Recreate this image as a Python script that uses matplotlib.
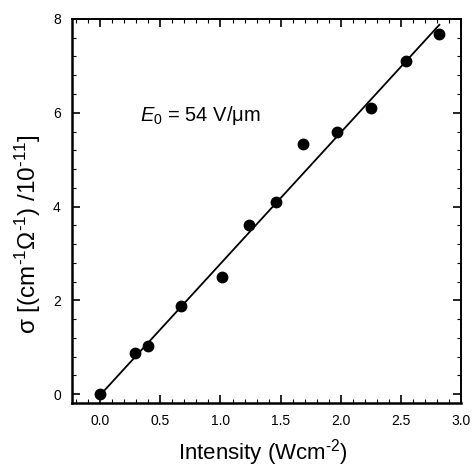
import matplotlib.pyplot as plt
from matplotlib.ticker import MultipleLocator

# Photoconductivity vs. intensity
intensity = [0.0, 0.29, 0.40, 0.67, 1.01, 1.24, 1.465, 1.69, 1.97, 2.255, 2.54, 2.82]
sigma = [0.0, 0.875, 1.02, 1.88, 2.50, 3.61, 4.10, 5.34, 5.58, 6.11, 7.10, 7.67]

# linear fit line as drawn
fit_x = [0.0, 2.82]
fit_slope = 2.80
fit_intercept = -0.02

plt.rcParams.update({
    "font.family": ["Liberation Sans", "DejaVu Sans"],
    "mathtext.fontset": "custom",
    "mathtext.rm": "Liberation Sans",
    "mathtext.it": "Liberation Sans:italic",
})

fig = plt.figure(figsize=(4.72, 4.70), dpi=100)
ax = fig.add_axes([0.1525, 0.1426, 0.8242, 0.817])

fit_y = [fit_intercept + fit_slope * x for x in fit_x]
ax.plot(fit_x, fit_y, color="black", linewidth=1.3, zorder=2)
ax.plot(intensity, sigma, "o", color="black", markersize=7.5, zorder=3)

ax.set_xlim(-0.235, 3.0)
ax.set_ylim(-0.19, 8.0)
ax.xaxis.set_major_locator(MultipleLocator(0.5))
ax.xaxis.set_minor_locator(MultipleLocator(0.1))
ax.yaxis.set_major_locator(MultipleLocator(2))
ax.yaxis.set_minor_locator(MultipleLocator(0.4))
ax.xaxis.set_major_formatter(plt.FuncFormatter(lambda v, p: f"{v:.1f}"))
ax.tick_params(which="both", direction="in", top=True, right=True, labelsize=10)
ax.tick_params(which="major", length=6, width=1.2)
ax.tick_params(which="minor", length=3, width=0.8)
ax.tick_params(axis="x", pad=8)
ax.tick_params(axis="y", pad=8)
for side in ["left", "bottom"]:
    ax.spines[side].set_linewidth(1.8)
for side in ["top", "right"]:
    ax.spines[side].set_linewidth(1.4)

ax.set_xlabel(r"Intensity (Wcm$^{\text{-}2}$)", fontsize=16)
ax.xaxis.set_label_coords(0.49, -0.088)
ax.set_ylabel(r"σ [(cm$^{\text{-}1}$Ω$^{\text{-}1}$) /10$^{\text{-}11}$]", fontsize=17.5)
ax.yaxis.set_label_coords(-0.075, 0.44)

ax.text(0.33, 5.95, r"$E_0$ = 54 V/μm", fontsize=14.5, va="center", ha="left")

fig.savefig("out.png", dpi=100)
